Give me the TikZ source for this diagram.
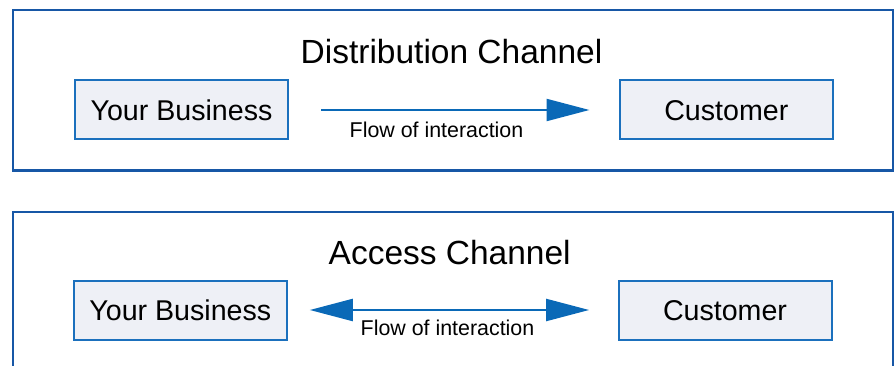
\documentclass[tikz,border=0pt]{standalone}
\usepackage{fontspec}
\setmainfont{Liberation Sans}
\usetikzlibrary{arrows.meta}
\definecolor{frameblue}{HTML}{1757A6}
\definecolor{boxblue}{HTML}{1B70BD}
\definecolor{boxfill}{HTML}{EEF0F6}
\definecolor{arrowblue}{HTML}{0A69B7}
\tikzset{
  frame/.style={draw=frameblue, line width=2.3pt},
  partybox/.style={draw=boxblue, fill=boxfill, line width=2pt, minimum width=213pt, minimum height=59pt, inner sep=0pt,
    text height=20.4pt, text depth=0pt, font=\fontsize{28.6}{31}\selectfont},
  titletext/.style={anchor=base, inner sep=0pt, font=\fontsize{33.5}{36}\selectfont},
  flowlabel/.style={anchor=base, inner sep=0pt, font=\fontsize{21.4}{24}\selectfont},
  flow/.style={draw=arrowblue, line width=2.2pt}
}
\begin{document}
\begin{tikzpicture}[x=1pt, y=-1pt]
\useasboundingbox (0,0) rectangle (894,366);
% top frame
\draw[frame] (13,10) rectangle (892.7,170.5);
\node[titletext] (t1) at (451.5,63.3) {Distribution Channel};
\node[partybox] (yb1) at (181.5,110) {Your Business};
\node[partybox] (c1) at (726.3,110) {Customer};
\draw[flow, -{Triangle[length=43pt, width=22pt]}, shorten <=32pt, shorten >=29.3pt] (yb1) -- (c1);
\node[flowlabel] (l1) at (436.5,138) {Flow of interaction};
% bottom frame (open at the bottom)
\draw[frame] (13,367) -- (13,211.7) -- (892.7,211.7) -- (892.7,367);
\node[titletext] (t2) at (449.7,264.7) {Access Channel};
\node[partybox] (yb2) at (180.3,310) {Your Business};
\node[partybox] (c2) at (725,310) {Customer};
\draw[flow, {Triangle[length=43pt, width=22pt]}-{Triangle[length=43pt, width=22pt]}, shorten <=22pt, shorten >=28.4pt] (yb2) -- (c2);
\node[flowlabel] (l2) at (447.5,335) {Flow of interaction};
\end{tikzpicture}
\end{document}
